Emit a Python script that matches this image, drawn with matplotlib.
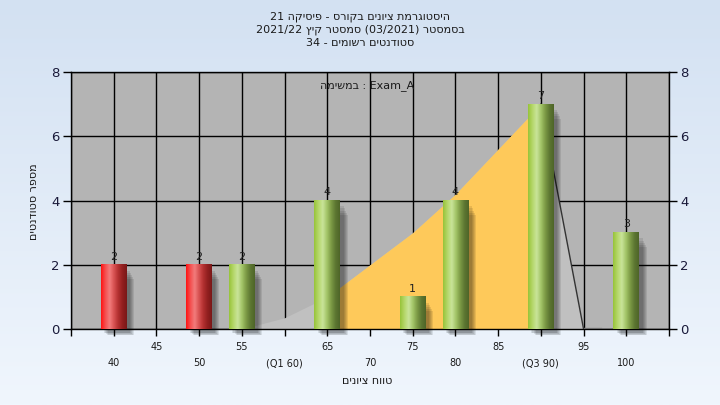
import numpy as np
import matplotlib.pyplot as plt
from matplotlib.colors import to_rgb

#Data
scores = [40, 50, 55, 65, 75, 80, 90, 100]
counts = [2, 2, 2, 4, 1, 4, 7, 3]
pass_mark = 55
#Background area curve
curve_x = [55, 60, 65, 70, 75, 80, 85, 90, 95]
curve_y = [0, 0.35, 1.0, 2.0, 3.0, 4.2, 5.6, 7.0, 0]
q1 = 65
q3 = 90
#Tick labels (two rows)
upper_ticks = [45, 55, 65, 75, 85, 95]
lower_ticks = [40, 50, 60, 70, 80, 90, 100]
lower_labels = ['40', '50', '(Q1 60)', '70', '80', '(Q3 90)', '100']

#Hebrew strings written in visual (left to right) order
title_lines = ['21 הקיסיפ - סרוקב םינויצ תמרגוטסיה',
               '2021/22 ץיק רטסמס (03/2021) רטסמסב',
               '34 - םימושר םיטנדוטס']
xlabel = 'םינויצ חווט'
ylabel = 'םיטנדוטס רפסמ'
legend_text = 'המישמב : Exam_A'

plt.rcParams['font.family'] = ['DejaVu Sans']

fig = plt.figure(figsize=(7.2, 4.05), dpi=100)

#Figure background gradient
bg = fig.add_axes([0, 0, 1, 1], zorder=-10)
top_c = np.array(to_rgb('#d3e1f2'))
bot_c = np.array(to_rgb('#f0f6fd'))
t = np.linspace(0, 1, 200)[:, None, None]
bg.imshow(top_c * (1 - t) + bot_c * t, aspect='auto', extent=(0, 1, 0, 1))
bg.axis('off')

ax = fig.add_axes([71/720, 76/405, 598/720, 257/405])
ax.set_facecolor('#b4b4b4')
ax.set_xlim(35, 105)
ax.set_ylim(0, 8)

#Grid
ax.set_xticks(np.arange(35, 106, 5))
ax.set_yticks([0, 2, 4, 6, 8])
ax.grid(True, color='black', linewidth=1, zorder=0)
ax.set_axisbelow(True)

#Area behind the bars
cx = np.array(curve_x, dtype=float)
cy = np.array(curve_y, dtype=float)
ax.fill_between(cx, 0, cy, color='#c0c0c0', linewidth=0, zorder=1)
ax.fill_between(cx, 0, cy, where=(cx >= q1) & (cx <= q3), color='#fec95a',
                linewidth=0, zorder=1.1)
ax.plot(cx[-2:], cy[-2:], color='#333333', linewidth=1, zorder=1.2)
ax.plot([95, 97], [0.02, 0.02], color='#888888', linewidth=1, zorder=1.2)

def gradient(colors, n=60):
    stops = np.linspace(0, 1, len(colors))
    xs = np.linspace(0, 1, n)
    rgb = np.array([to_rgb(c) for c in colors])
    out = np.stack([np.interp(xs, stops, rgb[:, k]) for k in range(3)], axis=-1)
    return out[None, :, :]

green = gradient(['#97c43a', '#b5d76a', '#c9e49a', '#a3c568', '#7c9a45', '#5d7732', '#4e6528'])
red = gradient(['#ff1414', '#f45050', '#f27c7c', '#d85252', '#b33030', '#921f1f', '#7a1818'])

w = 3.0
for s, c in zip(scores, counts):
    #shadow
    for k in range(5):
        off = 0.15 + k * 0.12
        ax.add_patch(plt.Rectangle((s - w/2 + off + 0.25, -0.12 - k*0.02), w, c - off*0.4,
                                   color='black', alpha=0.09, linewidth=0, zorder=2,
                                   clip_on=False))
    img = red if s < pass_mark else green
    ax.imshow(img, aspect='auto', extent=(s - w/2, s + w/2, 0, c), zorder=3,
              interpolation='bilinear')
    ax.text(s, c + 0.1, str(c), ha='center', va='bottom', fontsize=8,
            color='#222222', zorder=4)

ax.set_xlim(35, 105)
ax.set_ylim(0, 8)

#Axes styling
for sp in ax.spines.values():
    sp.set_color('black')
    sp.set_linewidth(1)
ax.tick_params(axis='y', which='both', left=True, right=True, labelleft=True,
               labelright=True, length=6, width=1, labelsize=9.5, colors='black',
               labelcolor='#1a1a3a', pad=2)
ax.tick_params(axis='x', length=5, width=1, labelbottom=False)

for v in upper_ticks:
    ax.text(v, -0.56, str(v), ha='center', va='center', fontsize=7, color='#1a1a1a')
for v, lab in zip(lower_ticks, lower_labels):
    ax.text(v, -1.06, lab, ha='center', va='center', fontsize=7, color='#1a1a1a')

fig.text(367/720, 24/405, xlabel, ha='center', va='center', fontsize=8, color='#1a1a1a')
fig.text(34/720, 203/405, ylabel, ha='center', va='center', rotation=90,
         fontsize=8, color='#1a1a1a')

ax.text(69.7, 7.57, legend_text, ha='center', va='center', fontsize=8,
        color='#1a1a1a', zorder=5)

for i, line in enumerate(title_lines):
    fig.text(360/720, (405 - 17 - 13*i)/405, line, ha='center', va='center',
             fontsize=8, color='#1a1a1a')

fig.savefig('out.png', dpi=100)
